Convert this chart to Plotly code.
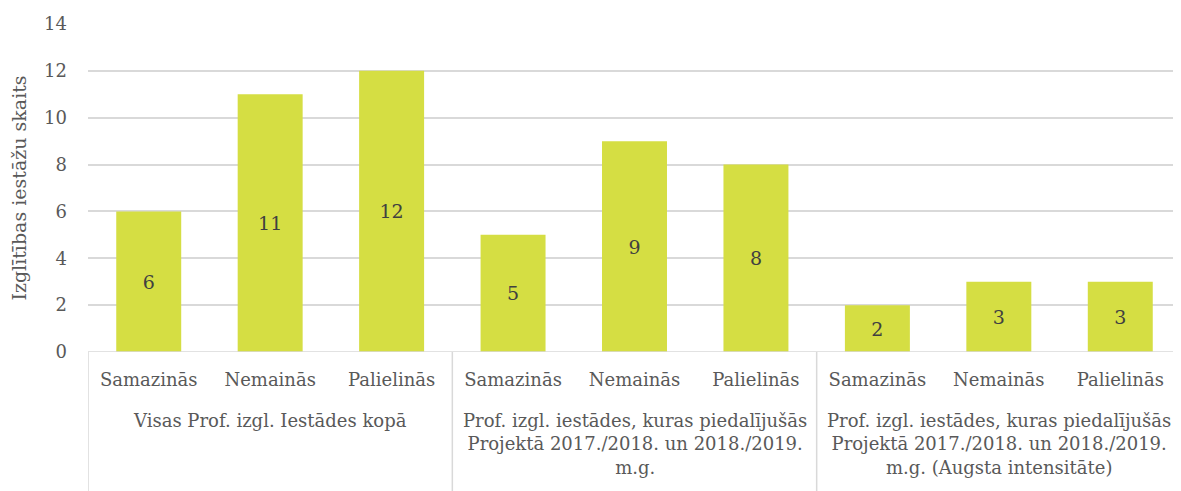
import plotly.graph_objects as go

groups = [
    "Visas Prof. izgl. Iestādes kopā",
    "Prof. izgl. iestādes, kuras piedalījušās<br>Projektā 2017./2018. un 2018./2019.<br>m.g.",
    "Prof. izgl. iestādes, kuras piedalījušās<br>Projektā 2017./2018. un 2018./2019.<br>m.g. (Augsta intensitāte)",
]
subcats = ["Samazinās", "Nemainās", "Palielinās"]
values = [6, 11, 12, 5, 9, 8, 2, 3, 3]
y_ticks = [0, 2, 4, 6, 8, 10, 12, 14]

labels = [s for g in groups for s in subcats]
xpos = list(range(len(values)))

FONT = "DejaVu Serif"
FS = 18
TXT = "#595959"

fig = go.Figure()
fig.add_trace(go.Bar(
    x=xpos, y=values,
    marker=dict(color="#D5DE43", line=dict(width=0)),
    width=0.535,
    text=[str(v) for v in values],
    textposition="inside",
    insidetextanchor="middle",
    textangle=0,
    textfont=dict(family=FONT, size=FS + 1, color="#404040"),
    hoverinfo="skip",
))

shapes = []
shapes.append(dict(type="line", xref="x", yref="y", x0=-0.5, x1=8.5, y0=0, y1=0,
                   line=dict(color="#D9D9D9", width=1.5)))
for k in range(len(groups) + 1):
    xd = -0.5 + 3 * k
    if xd > 8.4:
        continue
    shapes.append(dict(type="line", xref="x", yref="paper", x0=xd, x1=xd, y0=0, y1=-0.45,
                       line=dict(color="#D9D9D9", width=1.5)))

annotations = []
for i, g in enumerate(groups):
    annotations.append(dict(
        x=3 * i + 1, y=-0.172, xref="x", yref="paper", text=g, showarrow=False,
        xanchor="center", yanchor="top", align="center",
        font=dict(family=FONT, size=FS, color=TXT),
    ))

fig.update_layout(
    width=1173, height=483,
    margin=dict(l=80, r=0, t=16, b=139, pad=0),
    paper_bgcolor="white", plot_bgcolor="white",
    font=dict(family=FONT, size=FS, color=TXT),
    showlegend=False,
    shapes=shapes,
    annotations=annotations,
    xaxis=dict(
        range=[-0.5, 8.5], tickmode="array", tickvals=xpos, ticktext=labels,
        showgrid=False, zeroline=False, showline=False, ticks="",
        ticklabelstandoff=15,
        tickfont=dict(family=FONT, size=FS, color=TXT),
        fixedrange=True,
    ),
    yaxis=dict(
        range=[0, 14], tickmode="array", tickvals=y_ticks,
        showgrid=True, gridcolor="#D9D9D9", gridwidth=1.5,
        zeroline=False, showline=False, ticks="",
        ticklabelstandoff=20,
        tickfont=dict(family=FONT, size=FS, color=TXT),
        title=dict(text="Izglītības iestāžu skaits", font=dict(family=FONT, size=FS + 1, color=TXT), standoff=14),
        fixedrange=True,
    ),
)

fig.write_html("out.html")
